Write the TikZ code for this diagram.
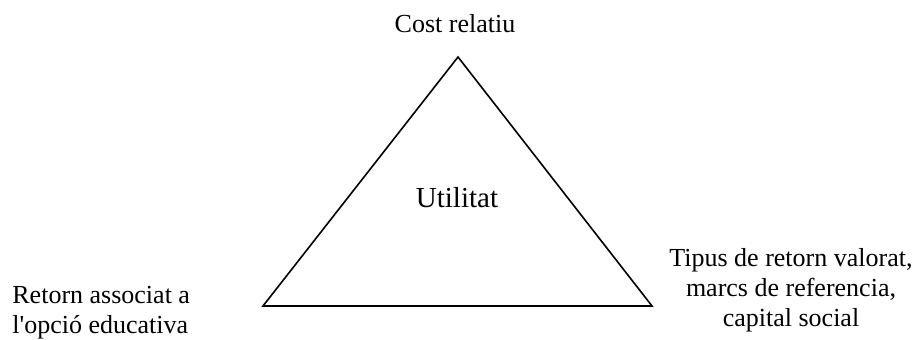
\documentclass[tikz,border=0pt]{standalone}
\usepackage{fontspec}
\setmainfont{Liberation Serif}
\usepackage{tikz}
\usetikzlibrary{positioning}

\tikzset{
    label text/.style={inner sep=0pt, font=\fontsize{13}{15}\selectfont},
    centre text/.style={inner sep=0pt, font=\fontsize{14.5}{17}\selectfont}
}

\begin{document}
\begin{tikzpicture}[x=0.5pt, y=-0.5pt]
        \useasboundingbox (0,0) rectangle (919,340);
        % corners of the triangle
        \coordinate (apex) at (458,57);
        \coordinate (baseL) at (263,306);
        \coordinate (baseR) at (652,306);
        \draw[thick, line join=miter] (apex) -- (baseL) -- (baseR) -- cycle;

        % base anchor of a multi-line node sits on its last line
        \node[centre text, anchor=base] (utility) at (457,208) {Utilitat};
        \node[label text, anchor=base] (cost) at (455,33) {Cost relatiu};
        \node[label text, anchor=base west, align=left] (returns) at (12,334) {Retorn associat a\\l\textquotesingle opció educativa};
        \node[label text, anchor=base, align=center] (context) at (791,327) {Tipus de retorn valorat,\\marcs de referencia,\\capital social};
    \end{tikzpicture}
\end{document}
